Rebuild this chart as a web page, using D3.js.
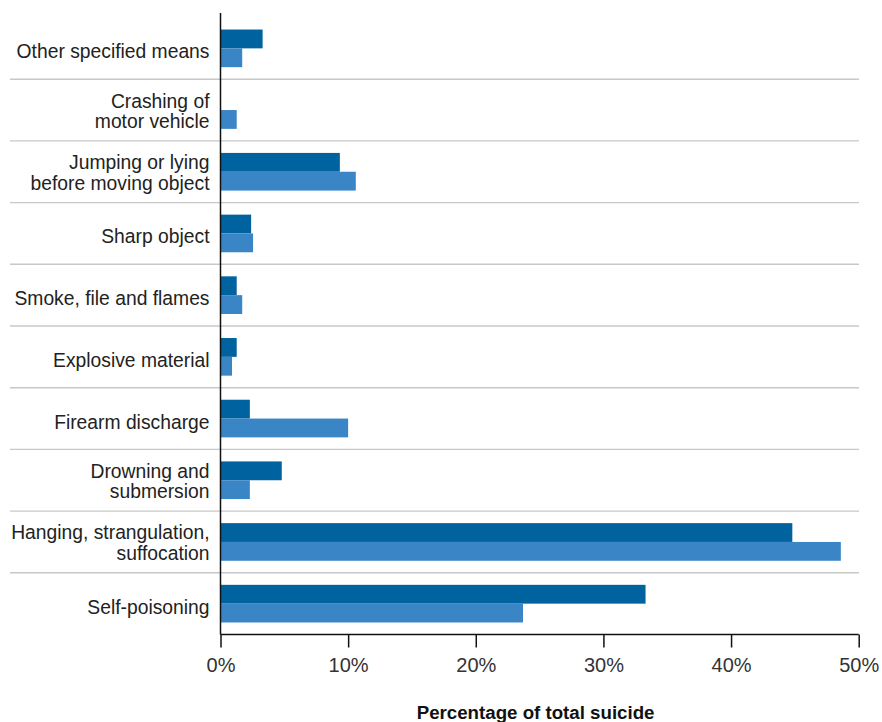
<!DOCTYPE html>
<html>
<head>
<meta charset="utf-8">
<script src="https://cdn.jsdelivr.net/npm/d3@7"></script>
<style>
  body { margin: 0; background: #fff; }
  text { font-family: "Liberation Sans", Arial, sans-serif; }
</style>
</head>
<body>
<svg id="chart"></svg>
<script>
// Categories, top to bottom, each label split into its lines
let categories = [
    ['Other specified means'],
    ['Crashing of', 'motor vehicle'],
    ['Jumping or lying', 'before moving object'],
    ['Sharp object'],
    ['Smoke, file and flames'],
    ['Explosive material'],
    ['Firearm discharge'],
    ['Drowning and', 'submersion'],
    ['Hanging, strangulation,', 'suffocation'],
    ['Self-poisoning']
];

// Two series (percent of total suicide)
let darkValues = [3.3, 0, 9.35, 2.4, 1.27, 1.27, 2.3, 4.8, 44.8, 33.3];
let lightValues = [1.7, 1.27, 10.6, 2.55, 1.7, 0.9, 10.0, 2.3, 48.6, 23.7];

let xTicks = [0, 10, 20, 30, 40, 50];
let axisTitle = 'Percentage of total suicide';

let width = 882;
let height = 722;

let svg = d3.select('#chart')
    .attr('width', width)
    .attr('height', height);

let x = d3.scaleLinear()
    .domain([0, 50])
    .range([220.5, 858.7]);

let y = d3.scaleBand()
    .domain(d3.range(categories.length))
    .range([17.5, 634.5]);

let bw = y.bandwidth();
let barPad = bw * 0.195;
let barH = (bw - 2 * barPad) / 2;

// Separators between categories
svg.append('g')
    .selectAll('line')
    .data(d3.range(1, categories.length))
    .enter().append('line')
    .attr('x1', 10)
    .attr('x2', 859)
    .attr('y1', i => y(i))
    .attr('y2', i => y(i))
    .attr('stroke', '#c8c8c8')
    .attr('stroke-width', 1.4);

// Bars
let bars = svg.append('g');
bars.selectAll('rect.dark')
    .data(darkValues)
    .enter().append('rect')
    .attr('class', 'dark')
    .attr('x', x(0))
    .attr('y', (d, i) => y(i) + barPad)
    .attr('width', d => x(d) - x(0))
    .attr('height', barH)
    .attr('fill', '#00629f');

bars.selectAll('rect.light')
    .data(lightValues)
    .enter().append('rect')
    .attr('class', 'light')
    .attr('x', x(0))
    .attr('y', (d, i) => y(i) + barPad + barH)
    .attr('width', d => x(d) - x(0))
    .attr('height', barH)
    .attr('fill', '#3a85c5');

// Category labels
let labels = svg.append('g')
    .selectAll('text')
    .data(categories)
    .enter().append('text')
    .attr('text-anchor', 'end')
    .attr('font-size', 19.3)
    .attr('fill', '#222');

labels.each(function (lines, i) {
    let c = y(i) + bw / 2;
    let first = lines.length === 1 ? c + 10 : c - 2.5;
    d3.select(this).selectAll('tspan')
        .data(lines)
        .enter().append('tspan')
        .attr('x', 209.5)
        .attr('y', (l, j) => first + j * 20.5)
        .text(l => l);
});

// Y axis line
svg.append('line')
    .attr('x1', x(0))
    .attr('x2', x(0))
    .attr('y1', 13)
    .attr('y2', 634.5)
    .attr('stroke', '#111')
    .attr('stroke-width', 1.5);

// X axis
let xAxis = d3.axisBottom(x)
    .tickValues(xTicks)
    .tickSize(13)
    .tickPadding(10)
    .tickFormat(d => d + '%');

let xg = svg.append('g')
    .attr('transform', 'translate(0,634.5)')
    .call(xAxis);

xg.select('.domain')
    .attr('d', `M${x(0)},0H${x(50)}`)
    .attr('stroke', '#111')
    .attr('stroke-width', 1.5);
xg.selectAll('.tick line')
    .attr('stroke', '#111')
    .attr('stroke-width', 1.5);
xg.selectAll('.tick text')
    .attr('font-family', '"Liberation Sans", Arial, sans-serif')
    .attr('font-size', 20)
    .attr('fill', '#333');

svg.append('text')
    .attr('x', (x(0) + x(50)) / 2 - 4)
    .attr('y', 719)
    .attr('text-anchor', 'middle')
    .attr('font-size', 18.7)
    .attr('font-weight', 'bold')
    .attr('fill', '#111')
    .text(axisTitle);
</script>
</body>
</html>
